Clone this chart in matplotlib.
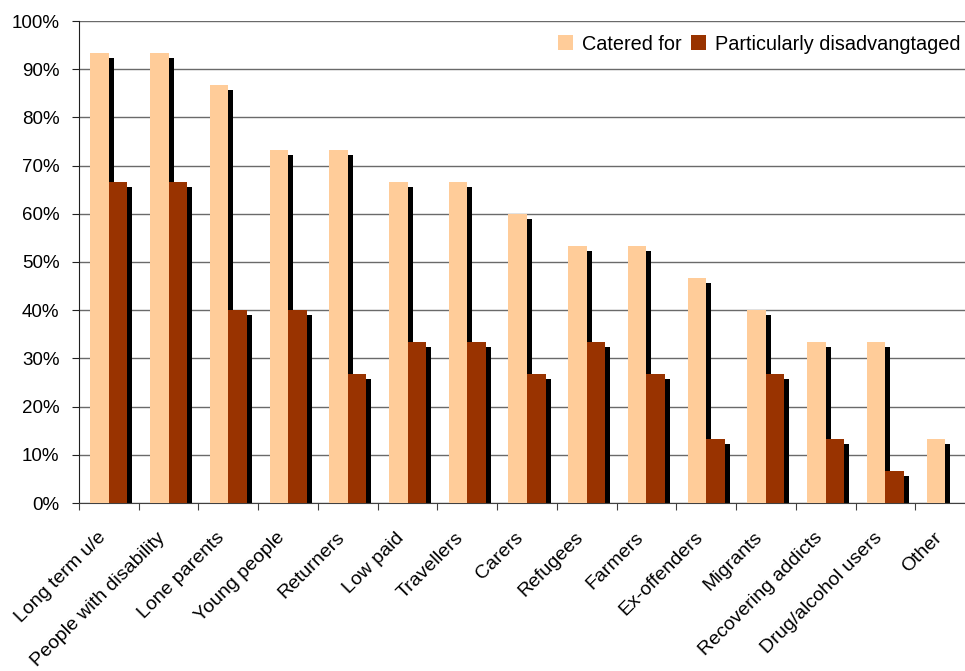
import numpy as np
import matplotlib.pyplot as plt
from matplotlib import transforms
from matplotlib.ticker import FixedLocator, PercentFormatter

plt.rcParams['font.family'] = ['Liberation Sans', 'DejaVu Sans']

groups = ['Long term u/e', 'People with disability', 'Lone parents', 'Young people',
          'Returners', 'Low paid', 'Travellers', 'Carers', 'Refugees', 'Farmers',
          'Ex-offenders', 'Migrants', 'Recovering addicts', 'Drug/alcohol users', 'Other']
catered = [93.3, 93.3, 86.7, 73.3, 73.3, 66.7, 66.7, 60.0, 53.3, 53.3, 46.7, 40.0, 33.3, 33.3, 13.3]
disadv = [66.7, 66.7, 40.0, 40.0, 26.7, 33.3, 33.3, 26.7, 33.3, 26.7, 13.3, 26.7, 13.3, 6.7, 0.0]

fig = plt.figure(figsize=(9.65, 6.71), dpi=100)
# axes run slightly past the right edge of the figure
ax = fig.add_axes([79 / 965, (671 - 503) / 671, 896 / 965, 482 / 671])

x = np.arange(len(groups))
w = 0.31

# drop shadows: same bars shifted right and down
shadow = ax.transData + transforms.ScaledTranslation(5 / 100, -5 / 100, fig.dpi_scale_trans)
for xs, vals in ((x - w, catered), (x, disadv)):
    ax.bar(xs, vals, w, align='edge', color='black', zorder=2, transform=shadow)

ax.bar(x - w, catered, w, align='edge', color='#FFCC99', zorder=3, label='Catered for')
ax.bar(x, disadv, w, align='edge', color='#993300', zorder=3, label='Particularly disadvangtaged')

ax.set_xlim(-0.5, len(groups) - 0.5)
ax.set_ylim(0, 100)
ax.yaxis.set_major_locator(FixedLocator(np.arange(0, 101, 10)))
ax.yaxis.set_major_formatter(PercentFormatter(decimals=0))
ax.grid(axis='y', color='#6a6a6a', linewidth=1, zorder=0)
ax.set_axisbelow(True)

# category ticks sit between the groups; names are placed as rotated text
ax.set_xticks(np.arange(len(groups) + 1) - 0.5)
ax.set_xticklabels([])
ax.tick_params(axis='x', length=5, color='#404040')
ax.tick_params(axis='y', labelsize=13.5, length=5, pad=9, color='#202020')

lbl = ax.get_xaxis_transform() + transforms.ScaledTranslation(-12 / 100, -26 / 100, fig.dpi_scale_trans)
for xi, name in zip(x, groups):
    ax.text(xi, 0, name, transform=lbl, rotation=45, ha='right', va='top',
            rotation_mode='anchor', fontsize=14)

for s in ('top', 'right'):
    ax.spines[s].set_visible(False)
ax.spines['left'].set_color('#202020')
ax.spines['bottom'].set_color('#404040')

leg = ax.legend(loc='center right', bbox_to_anchor=(1.0, 1 - 44 / 671), bbox_transform=fig.transFigure,
                fontsize=14.3, frameon=True, fancybox=False, handlelength=0.75, handleheight=0.75,
                handletextpad=0.45, columnspacing=0.45, ncol=2, borderpad=0.25, borderaxespad=0.0)
leg.get_frame().set_edgecolor('white')
leg.get_frame().set_alpha(1)
leg.set_zorder(5)

fig.savefig('out.png', dpi=100)
